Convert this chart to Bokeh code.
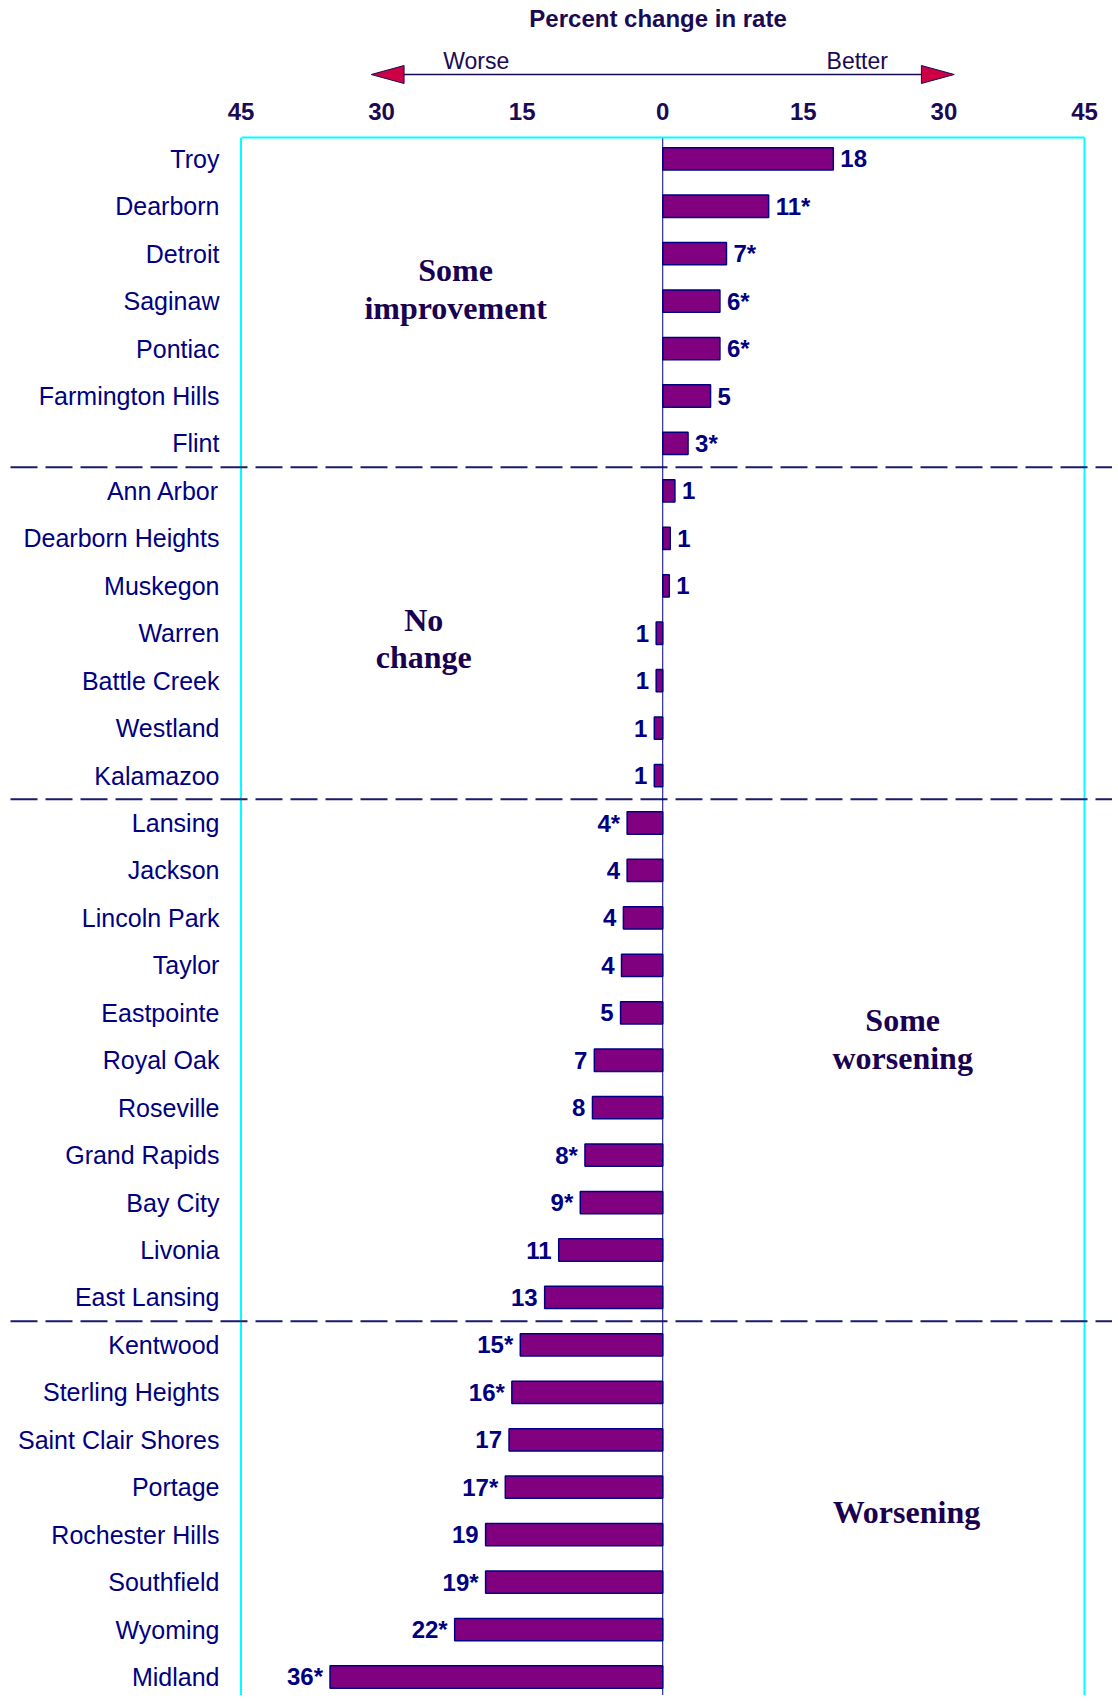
from bokeh.plotting import figure
from bokeh.models import (ColumnDataSource, Range1d, LinearAxis, FixedTicker)
from bokeh.layouts import column
from bokeh.core.properties import value
from bokeh.embed import file_html
from bokeh.resources import INLINE

# ---------------- data ----------------
cities = ["Troy", "Dearborn", "Detroit", "Saginaw", "Pontiac", "Farmington Hills", "Flint",
          "Ann Arbor", "Dearborn Heights", "Muskegon", "Warren", "Battle Creek", "Westland",
          "Kalamazoo", "Lansing", "Jackson", "Lincoln Park", "Taylor", "Eastpointe",
          "Royal Oak", "Roseville", "Grand Rapids", "Bay City", "Livonia", "East Lansing",
          "Kentwood", "Sterling Heights", "Saint Clair Shores", "Portage", "Rochester Hills",
          "Southfield", "Wyoming", "Midland"]
changes = [18.2, 11.3, 6.8, 6.1, 6.1, 5.1, 2.7,
           1.3, 0.8, 0.7, -0.7, -0.7, -0.9,
           -0.9, -3.8, -3.8, -4.2, -4.4, -4.5,
           -7.3, -7.5, -8.3, -8.8, -11.1, -12.6,
           -15.2, -16.1, -16.4, -16.8, -18.9,
           -18.9, -22.2, -35.5]
value_labels = ["18", "11*", "7*", "6*", "6*", "5", "3*",
                "1", "1", "1", "1", "1", "1",
                "1", "4*", "4", "4", "4", "5",
                "7", "8", "8*", "9*", "11", "13",
                "15*", "16*", "17", "17*", "19",
                "19*", "22*", "36*"]
group_breaks = [6.5, 13.5, 24.5]
tick_values = [-45, -30, -15, 0, 15, 30, 45]
tick_labels = ["45", "30", "15", "0", "15", "30", "45"]
annotations = ["Some\nimprovement", "No\nchange", "Some\nworsening", "Worsening"]

# ---------------- styling ----------------
W = 1112
SCALE = 9.3722
X0 = -45 - 240.5 / SCALE
X1 = X0 + W / SCALE
NAVY = "#000080"
DARK = "#1a0a55"
ANN = "#1a0050"
SANS = value("Liberation Sans")
SERIF = value("Liberation Serif")

# ---------------- header ----------------
HH = 86
hdr = figure(width=W, height=HH, x_range=Range1d(X0, X1), y_range=Range1d(HH, 0),
             x_axis_type=None, y_axis_type=None, toolbar_location=None,
             output_backend="svg", min_border=0, outline_line_color=None, title=None)
hdr.grid.visible = False
hdr.text(x=[-0.5], y=[18], text=["Percent change in rate"], text_font=SANS,
         text_font_style="bold", text_font_size="24px", text_color=DARK,
         text_align="center", text_baseline="middle")
hdr.text(x=[-19.9, 20.75], y=[60, 60], text=["Worse", "Better"], text_font=SANS,
         text_font_size="23px", text_color=DARK, text_align="center", text_baseline="middle")
hdr.segment(x0=[-27.6], y0=[74], x1=[27.6], y1=[74], line_color=DARK, line_width=1.5)
hdr.patches(xs=[[-31.1, -27.6, -27.6], [31.1, 27.6, 27.6]],
            ys=[[74, 65, 83], [74, 65, 83]],
            fill_color="#cc0044", line_color=DARK, line_width=1)

# ---------------- main ----------------
MH = 1695 - HH
YTOP, YBOT = -0.449, 32.39
p = figure(width=W, height=MH, x_range=Range1d(X0, X1), y_range=Range1d(YBOT, YTOP),
           x_axis_type=None, y_axis_type=None, toolbar_location=None,
           output_backend="svg", min_border_left=0, min_border_right=0,
           min_border_bottom=0, min_border_top=51, outline_line_color=None, title=None)
p.grid.visible = False

ax = LinearAxis(ticker=FixedTicker(ticks=tick_values),
                major_label_overrides={t: l for t, l in zip(tick_values, tick_labels)},
                bounds=(-45, 45), axis_line_color="#00ffff", axis_line_width=2,
                major_tick_line_color=None, minor_tick_line_color=None,
                major_tick_in=0, major_tick_out=0, minor_tick_in=0, minor_tick_out=0,
                major_label_standoff=18,
                major_label_text_font="Liberation Sans",
                major_label_text_font_style="bold",
                major_label_text_font_size="24px",
                major_label_text_color=DARK)
p.add_layout(ax, "above")

# cyan box sides
p.segment(x0=[-45, 45], y0=[YTOP, YTOP], x1=[-45, 45], y1=[YBOT, YBOT],
          line_color="#00ffff", line_width=2)

# separators
xs0 = X0 + 10 / SCALE
p.segment(x0=[xs0] * len(group_breaks), y0=group_breaks,
          x1=[X1] * len(group_breaks), y1=group_breaks,
          line_color="#1a1a6e", line_width=2, line_dash="27 8")

idx = list(range(len(cities)))
src = ColumnDataSource(dict(y=idx, v=changes, city=cities, lab=value_labels))
p.hbar(y="y", left=0, right="v", height=0.47, source=src,
       fill_color="#800080", line_color=NAVY, line_width=1.5)

# zero line
p.segment(x0=[0], y0=[YTOP], x1=[0], y1=[YBOT], line_color=NAVY, line_width=1)

pos = [i for i in idx if changes[i] >= 0]
neg = [i for i in idx if changes[i] < 0]
src_pos = ColumnDataSource(dict(y=pos, v=[changes[i] for i in pos], lab=[value_labels[i] for i in pos]))
src_neg = ColumnDataSource(dict(y=neg, v=[changes[i] for i in neg], lab=[value_labels[i] for i in neg]))
p.text(x="v", y="y", text="lab", source=src_pos, x_offset=7, text_font=SANS,
       text_font_style="bold", text_font_size="24px", text_color=NAVY,
       text_align="left", text_baseline="middle")
p.text(x="v", y="y", text="lab", source=src_neg, x_offset=-7, text_font=SANS,
       text_font_style="bold", text_font_size="24px", text_color=NAVY,
       text_align="right", text_baseline="middle")

# category labels
p.text(x=-47.3, y="y", text="city", source=src, text_font=SANS,
       text_font_size="25px", text_color=NAVY, text_align="right", text_baseline="middle")

# region annotations
p.text(x=[-22.1, -25.5, 25.6, 26.0], y=[2.745, 10.11, 18.56, 28.53], text=annotations,
       text_font=SERIF, text_font_style="bold", text_font_size="32px", text_color=ANN,
       text_align="center", text_baseline="middle", text_line_height=1.05)

layout = column(hdr, p)
open("out.html", "w").write(file_html(layout, INLINE))
